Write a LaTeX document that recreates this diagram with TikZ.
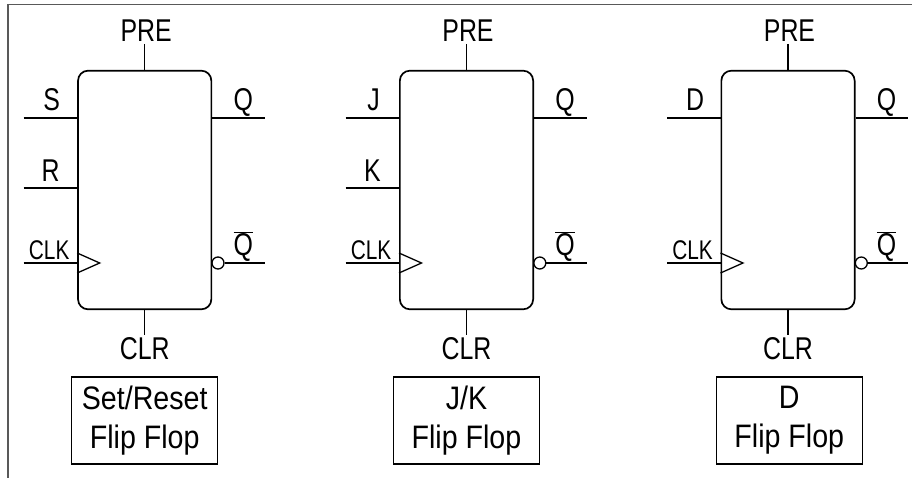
\documentclass[tikz,border=0pt]{standalone}
\usepackage{fontspec}
\setmainfont{Liberation Sans}
\newfontfamily\pinfont[FakeStretch=0.79]{Liberation Sans}
\newfontfamily\clkfont[FakeStretch=0.77]{Liberation Sans}
\newfontfamily\capfont[FakeStretch=0.88]{Liberation Sans}
\tikzset{
    ffbox/.style={
        rectangle, draw=black, line width=1.7pt, rounded corners=10pt,
        minimum width=133.3pt, minimum height=238.6pt,
    },
    capbox/.style={
        rectangle, draw=black, line width=1.4pt, align=center, inner sep=0pt,
        minimum width=146pt, minimum height=87pt,
        font=\capfont\fontsize{32.5}{39}\selectfont,
    },
    pinlabel/.style={anchor=base, inner sep=0pt, font=\pinfont\fontsize{31.5}{32}\selectfont},
    clklabel/.style={anchor=base, inner sep=0pt, font=\clkfont\fontsize{27}{28}\selectfont},
    pinline/.style={draw=black, line width=1.4pt},
}
\begin{document}
\begin{tikzpicture}[x=1pt, y=-1pt]
    \useasboundingbox (0,0) rectangle (912,478);

    % outer frame
    \draw[draw=black!65, line width=1.5pt] (8,478) -- (8,4.5) -- (912,4.5);

    \foreach \ff/\x/\ina/\capt/\capx in {sr/144.7/S/{Set/Reset}/144.7, jk/466.5/J/{J/K}/466.5, d/788/D/{D}/789.3} {
        \node (\ff) at(\x,190) [ffbox] {};
        \node (\ff-cap) at(\capx,420.3) [capbox] {\capt\\Flip Flop};

        \coordinate (\ff-pre) at(\x,44);
        \coordinate (\ff-clr) at(\x,335);
        \coordinate (\ff-a) at(\x-121,118);
        \coordinate (\ff-clk) at(\x-121,263);
        \coordinate (\ff-q) at(\x+120,118);
        \coordinate (\ff-qn) at(\x+120,263);
        \coordinate (\ff-tip) at(\x-45,263);

        \node (\ff-not) at(\x+73.3,263) [circle, draw=black, line width=1.3pt, inner sep=0pt, minimum size=12pt] {};

        \draw[pinline] (\ff-pre) -- (\ff.north);
        \draw[pinline] (\ff.south) -- (\ff-clr);
        \draw[pinline] (\ff-a) -- (\ff-a -| \ff.west);
        \draw[pinline] (\ff-clk) -- (\ff-clk -| \ff.west);
        \draw[pinline] (\ff-q -| \ff.east) -- (\ff-q);
        \draw[pinline] (\ff-not.east) -- (\ff-qn);
        \draw[draw=black, line width=1.3pt]
            ([yshift=10pt]\ff-clk -| \ff.west) -- (\ff-tip) -- ([yshift=-10pt]\ff-clk -| \ff.west);

        \node (\ff-prelabel) at(\x+1.5,41.5) [pinlabel] {PRE};
        \node (\ff-clrlabel) at(\x,359) [pinlabel] {CLR};
        \node (\ff-alabel) at(\x-93,111) [pinlabel] {\ina};
        \node (\ff-clklabel) at(\x-95.5,259) [clklabel] {CLK};
        \node (\ff-qlabel) at(\x+98.5,111) [pinlabel] {Q};
        \node (\ff-qnlabel) at(\x+98.5,255.5) [pinlabel] {$\overline{\mbox{Q}}$};
    }

    % second input, only on two of them
    \foreach \ff/\x/\inb in {sr/144.7/R, jk/466.5/K} {
        \coordinate (\ff-b) at(\x-121,188);
        \draw[pinline] (\ff-b) -- (\ff-b -| \ff.west);
        \node (\ff-blabel) at(\x-94,181.5) [pinlabel] {\inb};
    }
\end{tikzpicture}
\end{document}
